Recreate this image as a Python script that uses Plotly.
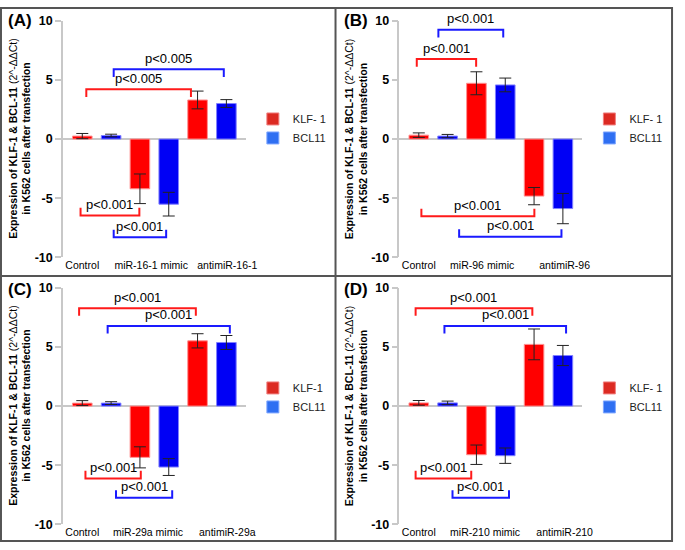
import plotly.graph_objects as go

# ---- data ----------------------------------------------------------------
groups_a = ["Control", "miR-16-1 mimic", "antimiR-16-1"]
klf_a = [0.25, -4.2, 3.3]
klf_err_a = [0.22, 1.25, 0.75]
bcl_a = [0.3, -5.5, 3.0]
bcl_err_a = [0.11, 1.0, 0.33]

groups_b = ["Control", "miR-96 mimic", "antimiR-96"]
klf_b = [0.33, 4.71, -4.82]
klf_err_b = [0.19, 0.97, 0.73]
bcl_b = [0.25, 4.57, -5.87]
bcl_err_b = [0.14, 0.58, 1.28]

groups_c = ["Control", "miR-29a mimic", "antimiR-29a"]
klf_c = [0.25, -4.33, 5.51]
klf_err_c = [0.21, 0.89, 0.6]
bcl_c = [0.25, -5.15, 5.37]
bcl_err_c = [0.12, 0.71, 0.59]

groups_d = ["Control", "miR-210 mimic", "antimiR-210"]
klf_d = [0.27, -4.11, 5.21]
klf_err_d = [0.2, 0.82, 1.3]
bcl_d = [0.27, -4.19, 4.27]
bcl_err_d = [0.15, 0.65, 0.85]

# significance brackets: (from bar, to bar, level, label, series)
brackets_a = [
    (0.14, 3.77, 4.2, "p<0.005", "KLF"),
    (1.09, 4.91, 5.9, "p<0.005", "BCL"),
    (-0.06, 1.98, -6.45, "p<0.001", "KLF"),
    (1.09, 2.91, -8.3, "p<0.001", "BCL"),
]
brackets_b = [
    (0.68, 2.93, 9.23, "p<0.001", "BCL"),
    (-0.07, 1.99, 6.75, "p<0.001", "KLF"),
    (0.09, 4.01, -6.53, "p<0.001", "KLF"),
    (1.40, 4.95, -8.26, "p<0.001", "BCL"),
]
brackets_c = [
    (-0.11, 3.94, 8.27, "p<0.001", "KLF"),
    (0.88, 5.12, 6.77, "p<0.001", "BCL"),
    (0.11, 2.03, -6.11, "p<0.001", "KLF"),
    (1.17, 3.12, -7.75, "p<0.001", "BCL"),
]
brackets_d = [
    (-0.11, 3.94, 8.27, "p<0.001", "KLF"),
    (0.89, 5.11, 6.77, "p<0.001", "BCL"),
    (-0.11, 1.82, -6.11, "p<0.001", "KLF"),
    (1.17, 3.13, -7.75, "p<0.001", "BCL"),
]

panel_tags = ["(A)", "(B)", "(C)", "(D)"]
klf_names = ["KLF- 1", "KLF- 1", "KLF-1", "KLF- 1"]
bcl_name = "BCL11"
y_ticks = [-10, -5, 0, 5, 10]

# ---- layout helpers ------------------------------------------------------
W, H = 685, 550
FONT = "Liberation Sans, Arial, sans-serif"
RED, BLUE = "#ff0000", "#0000f5"
BRACKET = {"KLF": "#ff1a1a", "BCL": "#1a1aff"}

panels = [
    (groups_a, klf_a, klf_err_a, bcl_a, bcl_err_a, brackets_a, [0, 2.39, 5.03]),
    (groups_b, klf_b, klf_err_b, bcl_b, bcl_err_b, brackets_b, [0, 2.2, 5.06]),
    (groups_c, klf_c, klf_err_c, bcl_c, bcl_err_c, brackets_c, [0, 2.28, 5.03]),
    (groups_d, klf_d, klf_err_d, bcl_d, bcl_err_d, brackets_d, [0, 2.3, 5.06]),
]
# panel origin in px (left, top)
origins = [(0, 0), (342, 0), (0, 276), (342, 276)]

fig = go.Figure()
layout = {}
annotations = []

for i, (groups, klf, klf_err, bcl, bcl_err, brackets, tickpos) in enumerate(panels):
    n = "" if i == 0 else str(i + 1)
    xa, ya = "x" + n, "y" + n
    ox, oy = origins[i]
    top_px = oy + 14 if i < 2 else oy + 12
    bot_px = oy + 257 if i < 2 else oy + 255

    klf_x = [2 * k for k in range(len(groups))]
    bcl_x = [2 * k + 1 for k in range(len(groups))]
    leg = "legend" if i == 0 else "legend" + str(i + 1)

    fig.add_trace(go.Bar(
        x=klf_x, y=klf, width=0.68,
        marker=dict(color=RED, line=dict(color="#ff9090", width=1)),
        error_y=dict(type="data", array=klf_err, color="#222", thickness=1, width=6),
        xaxis=xa, yaxis=ya, showlegend=False,
    ))
    fig.add_trace(go.Bar(
        x=bcl_x, y=bcl, width=0.68,
        marker=dict(color=BLUE, line=dict(color="#8080ff", width=1)),
        error_y=dict(type="data", array=bcl_err, color="#222", thickness=1, width=6),
        xaxis=xa, yaxis=ya, showlegend=False,
    ))
    # legend-only entries
    fig.add_trace(go.Bar(x=[None], y=[None], name=klf_names[i],
                         marker=dict(color="#dc2a22", line=dict(color="#f08080", width=1)),
                         xaxis=xa, yaxis=ya, legend=leg))
    fig.add_trace(go.Bar(x=[None], y=[None], name=bcl_name,
                         marker=dict(color="#2f6ff2", line=dict(color="#80a8ff", width=1)),
                         xaxis=xa, yaxis=ya, legend=leg))

    for x0, x1, lvl, label, series in brackets:
        tip = lvl - 0.65 if lvl > 0 else lvl + 0.65
        fig.add_trace(go.Scatter(
            x=[x0, x0, x1, x1], y=[tip, lvl, lvl, tip], mode="lines",
            line=dict(color=BRACKET[series], width=2),
            xaxis=xa, yaxis=ya, showlegend=False, hoverinfo="skip",
        ))
        annotations.append(dict(
            x=(x0 + x1) / 2, y=lvl, xref=xa, yref=ya, text=label, yshift=11,
            showarrow=False, font=dict(size=13, color="black"),
            xanchor="center", yanchor="middle",
        ))

    layout["xaxis" + n] = dict(
        domain=[(ox + 64) / W, (ox + 250) / W], anchor=ya,
        range=[-0.67, 5.68], showgrid=False, zeroline=False, showline=False,
        ticks="", tickmode="array", tickvals=tickpos, ticktext=groups,
        tickfont=dict(size=10.5, color="black"), fixedrange=True,
    )
    layout["yaxis" + n] = dict(
        domain=[1 - bot_px / H, 1 - top_px / H], anchor=xa,
        range=[-10, 10], tickvals=y_ticks, ticktext=[str(v) for v in y_ticks],
        showgrid=False, zeroline=True, zerolinecolor="#c8c8c8", zerolinewidth=2,
        showline=True, linecolor="#c8c8c8", linewidth=1.5,
        ticks="outside", ticklen=6, tickcolor="#c8c8c8", tickwidth=1.5,
        tickfont=dict(size=12.5, color="black", weight="bold"),
    )
    layout[leg] = dict(
        x=(ox + 257) / W, y=1 - (oy + 100) / H, xanchor="left", yanchor="top",
        font=dict(size=11, color="#222"), bgcolor="rgba(0,0,0,0)",
        tracegroupgap=0,
    )

    annotations.append(dict(
        x=(ox + 6) / W, y=1 - (oy + 2) / H, xref="paper", yref="paper",
        text="<b>" + panel_tags[i] + "</b>", showarrow=False,
        font=dict(size=17, color="black"), xanchor="left", yanchor="top",
    ))
    annotations.append(dict(
        x=(ox + 20) / W, y=1 - (top_px + bot_px) / 2 / H, xref="paper", yref="paper",
        text="<b>Expression of KLF-1 & BCL-11</b> (2^-ΔΔCt)<br><b>in K562 cells after transfection</b>",
        textangle=-90, showarrow=False, font=dict(size=10.5, color="black"),
        xanchor="center", yanchor="middle",
    ))

# panel frames
shapes = [
    dict(type="rect", xref="paper", yref="paper", x0=1 / W, x1=683 / W,
         y0=1 - 548 / H, y1=1 - 1 / H, line=dict(color="#555", width=2)),
    dict(type="line", xref="paper", yref="paper", x0=341 / W, x1=341 / W,
         y0=1 - 548 / H, y1=1 - 1 / H, line=dict(color="#555", width=2)),
    dict(type="line", xref="paper", yref="paper", x0=1 / W, x1=683 / W,
         y0=1 - 276 / H, y1=1 - 276 / H, line=dict(color="#555", width=2)),
]

fig.update_layout(
    width=W, height=H, margin=dict(l=0, r=0, t=0, b=0),
    paper_bgcolor="white", plot_bgcolor="white",
    font=dict(family=FONT, color="black"),
    barmode="overlay", annotations=annotations, shapes=shapes,
    **layout,
)

fig.write_html(
    "out.html",
    config={"displayModeBar": False},
    post_script="document.body.style.margin = '0';",
)
